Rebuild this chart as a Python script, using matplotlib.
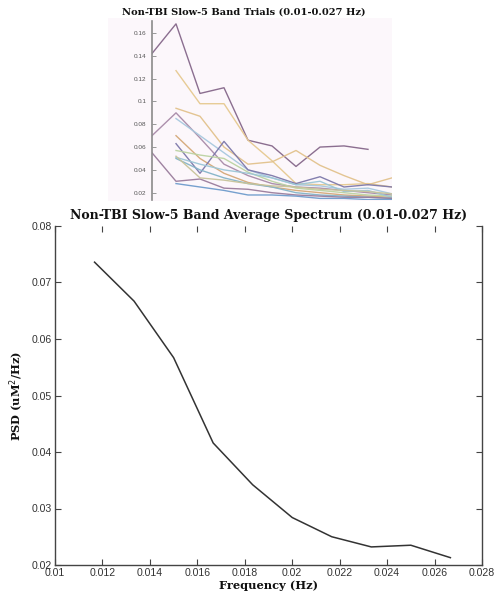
import numpy as np
import matplotlib
matplotlib.use("Agg")
import matplotlib.pyplot as plt
from matplotlib.patches import Rectangle

nan = np.nan
# ---------------- data ----------------
trial_freqs = [0.01, 0.011667, 0.013333, 0.015, 0.016667, 0.018333,
               0.02, 0.021667, 0.023333, 0.025, 0.026667]
trial_A = [0.142, 0.168, 0.107, 0.112, 0.066, 0.061, 0.043, 0.060, 0.061, 0.058, nan]
trial_B = [nan, 0.127, 0.098, 0.098, 0.066, 0.048, 0.028, 0.027, 0.027, 0.028, 0.025]
trial_C = [nan, 0.094, 0.087, 0.060, 0.045, 0.047, 0.057, 0.044, 0.035, 0.027, 0.033]
trial_D = [0.070, 0.090, 0.068, 0.045, 0.035, 0.028, 0.025, 0.024, 0.022, 0.020, 0.018]
trial_E = [nan, 0.085, 0.070, 0.055, 0.040, 0.033, 0.027, 0.026, 0.023, 0.024, 0.019]
trial_F = [nan, 0.070, 0.050, 0.037, 0.029, 0.025, 0.022, 0.020, 0.018, 0.017, 0.016]
trial_G = [nan, 0.063, 0.037, 0.065, 0.040, 0.035, 0.028, 0.034, 0.025, 0.027, 0.025]
trial_H = [nan, 0.057, 0.053, 0.050, 0.038, 0.030, 0.024, 0.022, 0.020, 0.018, 0.017]
trial_I = [nan, 0.051, 0.045, 0.040, 0.037, 0.033, 0.027, 0.030, 0.021, 0.022, 0.016]
trial_J = [nan, 0.050, 0.040, 0.033, 0.028, 0.025, 0.020, 0.018, 0.017, 0.016, 0.015]
trial_K = [0.055, 0.030, 0.032, 0.024, 0.023, 0.020, 0.018, 0.017, 0.016, 0.016, 0.015]
trial_L = [nan, 0.028, 0.025, 0.022, 0.018, 0.018, 0.017, 0.015, 0.015, 0.014, 0.014]
trial_M = [nan, 0.052, 0.033, 0.031, 0.028, 0.026, 0.025, 0.023, 0.022, 0.021, 0.019]
trials = [trial_A, trial_B, trial_C, trial_D, trial_E, trial_F, trial_G,
          trial_H, trial_I, trial_J, trial_K, trial_L, trial_M]
trial_colors = ["#85678a", "#e6c990", "#e2c28c", "#a88aa8", "#a7c8de", "#d4a878",
                "#7d78aa", "#bcd3a2", "#9cc6d6", "#84b4c8", "#9a7c9c", "#6f9ccc", "#c8c49a"]
top_yticks = [0.02, 0.04, 0.06, 0.08, 0.1, 0.12, 0.14, 0.16]
top_yticklabels = ["0.02", "0.04", "0.06", "0.08", "0.1", "0.12", "0.14", "0.16"]

avg_freqs = [0.011667, 0.013333, 0.015, 0.016667, 0.018333,
             0.02, 0.021667, 0.023333, 0.025, 0.026667]
avg_psd = [0.0736, 0.0667, 0.0567, 0.0416, 0.0342,
           0.0284, 0.0250, 0.0232, 0.0235, 0.0213]
x_ticks = [0.01, 0.012, 0.014, 0.016, 0.018, 0.02, 0.022, 0.024, 0.026, 0.028]
x_ticklabels = ["0.01", "0.012", "0.014", "0.016", "0.018", "0.02", "0.022", "0.024", "0.026", "0.028"]
y_ticks = [0.02, 0.03, 0.04, 0.05, 0.06, 0.07, 0.08]
y_ticklabels = ["0.02", "0.03", "0.04", "0.05", "0.06", "0.07", "0.08"]

W, H = 495, 602
fig = plt.figure(figsize=(W / 100, H / 100), dpi=100)
fig.patch.set_facecolor("white")

def fx(px):
    return px / W

def fy(py):
    return 1 - py / H

serif_bold = dict(family=["DejaVu Serif"], weight="bold")
sans = ["Liberation Sans", "DejaVu Sans"]

# pink background of the embedded top figure
fig.patches.append(Rectangle((fx(108), fy(201)), fx(392) - fx(108), fy(18) - fy(201),
                             transform=fig.transFigure, facecolor="#fcf7fb",
                             edgecolor="none", zorder=-5))

# ---------------- top: trials ----------------
ax1 = fig.add_axes([fx(152), fy(200), fx(392) - fx(152), fy(21) - fy(200)])
ax1.set_zorder(2)
ax1.set_facecolor("#fcf7fb")
for vals, c in zip(trials, trial_colors):
    ax1.plot(trial_freqs, vals, color=c, lw=1.0, alpha=0.95)
ax1.set_xlim(0.01, 0.026667)
ax1.set_ylim(0.0136, 0.1705)
for s in ["top", "right", "bottom"]:
    ax1.spines[s].set_visible(False)
ax1.spines["left"].set_color("#8a8a8a")
ax1.spines["left"].set_linewidth(1.2)
ax1.set_xticks([])
ax1.set_yticks(top_yticks)
ax1.set_yticklabels(top_yticklabels, family=sans)
ax1.tick_params(axis="y", direction="in", length=3, width=0.6, color="#888888",
                labelsize=4.6, labelcolor="#555555", pad=4)
fig.text(fx(244), fy(12), "Non-TBI Slow-5 Band Trials (0.01-0.027 Hz)",
         ha="center", va="center", fontsize=7.1, color="#111111", **serif_bold)

# ---------------- bottom: average ----------------
ax2 = fig.add_axes([fx(55), fy(565), fx(482) - fx(55), fy(226) - fy(565)])
ax2.plot(avg_freqs, avg_psd, color="#333333", lw=1.1)
ax2.set_xlim(0.01, 0.028)
ax2.set_ylim(0.02, 0.08)
ax2.set_xticks(x_ticks)
ax2.set_xticklabels(x_ticklabels, family=sans)
ax2.set_yticks(y_ticks)
ax2.set_yticklabels(y_ticklabels, family=sans)
ax2.spines["top"].set_visible(False)
for s in ["left", "bottom", "right"]:
    ax2.spines[s].set_color("#444444")
    ax2.spines[s].set_linewidth(1.0)
ax2.tick_params(axis="both", direction="in", length=4, width=0.8, color="#444444",
                labelsize=7.6, labelcolor="#333333", top=True, right=True,
                labeltop=False, labelright=False, pad=2.5)
ax2.set_title("Non-TBI Slow-5 Band Average Spectrum (0.01-0.027 Hz)",
              fontsize=9.0, color="#111111", pad=5, **serif_bold)
ax2.set_xlabel("Frequency (Hz)", fontsize=8.2, color="#111111", **serif_bold)
ax2.set_ylabel("PSD (uM$^{2}$/Hz)", fontsize=8.2, color="#111111", **serif_bold)
ax2.xaxis.set_label_coords(0.5, (565 - 580) / 339)
ax2.yaxis.set_label_coords((26 - 55) / 427, 0.5)

fig.savefig("out.png", dpi=100, facecolor="white")
